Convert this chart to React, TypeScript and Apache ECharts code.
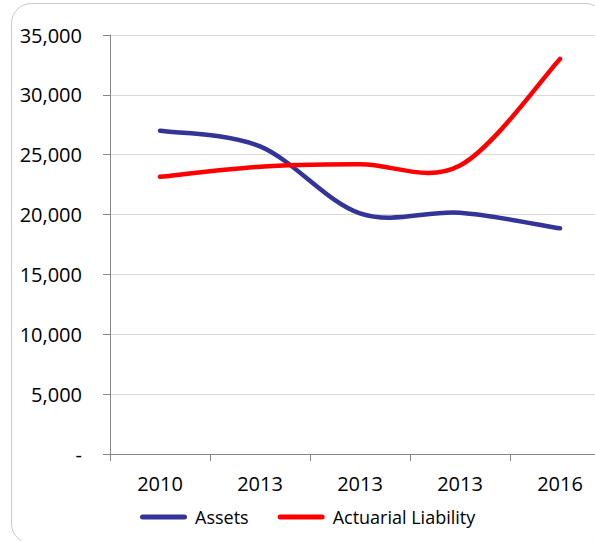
import React, { useEffect, useRef } from "react";
import * as echarts from "echarts";

const categories = ["2010", "2013", "2013", "2013", "2016"];
const assets = [27000, 25700, 20100, 20150, 18850];
const actuarialLiability = [23150, 24000, 24200, 24100, 33000];
const yMin = 0;
const yMax = 35000;
const yInterval = 5000;

const FONT = "Open Sans";

// Catmull-Rom style smoothing (like spreadsheet "smoothed line"), drawn from axis coordinates
function smoothPath(pts: number[][]): string {
  if (pts.length === 0) return "";
  let d = `M${pts[0][0]},${pts[0][1]}`;
  for (let i = 0; i < pts.length - 1; i++) {
    const p0 = pts[i - 1] || pts[i];
    const p1 = pts[i];
    const p2 = pts[i + 1];
    const p3 = pts[i + 2] || pts[i + 1];
    const c1x = p1[0] + (p2[0] - p0[0]) / 6;
    const c1y = p1[1] + (p2[1] - p0[1]) / 6;
    const c2x = p2[0] - (p3[0] - p1[0]) / 6;
    const c2y = p2[1] - (p3[1] - p1[1]) / 6;
    d += ` C${c1x},${c1y} ${c2x},${c2y} ${p2[0]},${p2[1]}`;
  }
  return d;
}

function makeSeries(name: string, values: number[], color: string) {
  return {
    name,
    type: "custom",
    coordinateSystem: "cartesian2d",
    data: values.map((v, i) => [i, v]),
    encode: { x: 0, y: 1 },
    itemStyle: { color },
    renderItem: (params: any, api: any) => {
      if (params.dataIndex !== 0) return null;
      const pts = values.map((v, i) => api.coord([i, v]));
      return {
        type: "path",
        shape: { pathData: smoothPath(pts) },
        style: {
          fill: "none",
          stroke: color,
          lineWidth: 4.5,
          lineCap: "round",
          lineJoin: "round",
        },
      };
    },
  };
}

export default function App() {
  const ref = useRef<HTMLDivElement>(null);
  useEffect(() => {
    if (!ref.current) return;
    const chart = echarts.init(ref.current, undefined, { renderer: "svg" });
    const capsule =
      "path://M2.5,0 L44.5,0 A2.5,2.5 0 0 1 44.5,5 L2.5,5 A2.5,2.5 0 0 1 2.5,0 Z";
    chart.setOption({
      animation: false,
      backgroundColor: "#ffffff",
      graphic: [
        {
          type: "rect",
          shape: { x: 11.5, y: 3.5, width: 594, height: 540, r: 20 },
          style: { fill: "none", stroke: "#c9c9c9", lineWidth: 1 },
          silent: true,
          z: -10,
        },
      ],
      grid: { left: 110, top: 35, width: 500, height: 419 },
      xAxis: {
        type: "category",
        data: categories,
        boundaryGap: true,
        axisLine: { show: true, lineStyle: { color: "#868686", width: 1 } },
        axisTick: { show: true, length: 7, inside: false, lineStyle: { color: "#868686" } },
        axisLabel: {
          fontFamily: FONT,
          fontSize: 20,
          color: "#000000",
          margin: 19,
          interval: 0,
        },
        splitLine: { show: false },
      },
      yAxis: {
        type: "value",
        min: yMin,
        max: yMax,
        interval: yInterval,
        axisLine: { show: true, lineStyle: { color: "#868686", width: 1 } },
        axisTick: { show: true, length: 7, inside: false, lineStyle: { color: "#868686" } },
        axisLabel: {
          fontFamily: FONT,
          fontSize: 20,
          color: "#000000",
          margin: 28,
          formatter: (v: number) => (v === 0 ? "-" : v.toLocaleString("en-US")),
        },
        splitLine: { show: true, lineStyle: { color: "#d9d9d9", width: 1 } },
      },
      legend: {
        left: 140,
        top: 508,
        padding: 0,
        itemWidth: 47,
        itemHeight: 5,
        itemGap: 29,
        textStyle: {
          fontFamily: FONT,
          fontSize: 18,
          color: "#000000",
          padding: [0, 0, 0, 3],
        },
        data: [
          { name: "Assets", icon: capsule },
          { name: "Actuarial Liability", icon: capsule },
        ],
      },
      series: [
        makeSeries("Assets", assets, "#333399"),
        makeSeries("Actuarial Liability", actuarialLiability, "#ff0000"),
      ],
    });
    return () => chart.dispose();
  }, []);
  return (
    <div
      ref={ref}
      style={{ position: "fixed", left: 0, top: 0, width: 630, height: 560 }}
    />
  );
}
